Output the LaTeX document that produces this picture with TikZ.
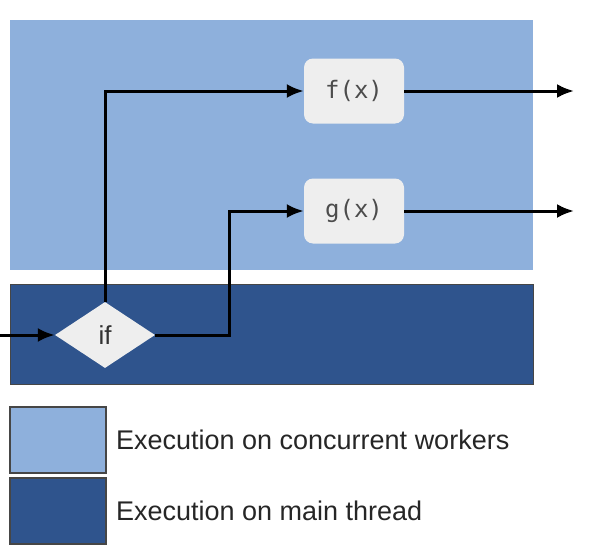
\documentclass[tikz,border=0pt]{standalone}
\usepackage{fontspec}
\setmainfont{Liberation Sans}
\newfontfamily\codefont{DejaVu Sans Mono}
\usetikzlibrary{arrows.meta, shapes.geometric, positioning}
\definecolor{workerblue}{RGB}{142,176,220}
\definecolor{mainblue}{RGB}{47,84,141}
\definecolor{boxgray}{RGB}{238,238,238}
\definecolor{edgegray}{RGB}{70,70,70}
\tikzset{
  funcbox/.style={fill=boxgray, rounded corners=9pt, minimum width=100pt, minimum height=65pt, text=black!70, font=\codefont\fontsize{24}{28}\selectfont},
  legendbox/.style={draw=edgegray, line width=1.2pt, minimum width=96pt, minimum height=66pt},
  flow/.style={->, line width=3pt}
}
\begin{document}
\begin{tikzpicture}[x=1pt, y=-1pt, >={Latex[length=17pt, width=14pt]}]
		%\draw [thin, help lines] (0,0) grid (600,554);
		\useasboundingbox (0,0) rectangle (600,554);
		\fill[workerblue] (10,20) rectangle (533,270);
		\draw[fill=mainblue, draw=edgegray, line width=1pt] (10,284) rectangle (533,384);
		\node[diamond, fill=boxgray, aspect=1.5, minimum width=100pt, minimum height=66pt, inner sep=0pt, text=black!80, font=\fontsize{26}{30}\selectfont] (if) at (105,335) {if};
		\node[funcbox] (f) at (354,91) {f(x)};
		\node[funcbox] (g) at (354,211) {g(x)};
		\coordinate (in) at (0,335);
		\coordinate (split) at (229,335);
		\coordinate (fout) at (574,91);
		\coordinate (gout) at (574,211);
		\draw[flow] (in) -- (if.west);
		\draw[flow] (if.north) |- (f.west);
		\draw[flow] (if.east) -- (split) |- (g.west);
		\draw[flow] (f.east) -- (fout);
		\draw[flow] (g.east) -- (gout);
		% legend
		\node[legendbox, fill=workerblue] (lgwork) at (58,440) {};
		\node[legendbox, fill=mainblue] (lgmain) at (58,511) {};
		\node[right=6pt of lgwork, text=black!85, font=\fontsize{27}{32}\selectfont] (txwork) {Execution on concurrent workers};
		\node[right=6pt of lgmain, text=black!85, font=\fontsize{27}{32}\selectfont] (txmain) {Execution on main thread};
	\end{tikzpicture}
\end{document}
